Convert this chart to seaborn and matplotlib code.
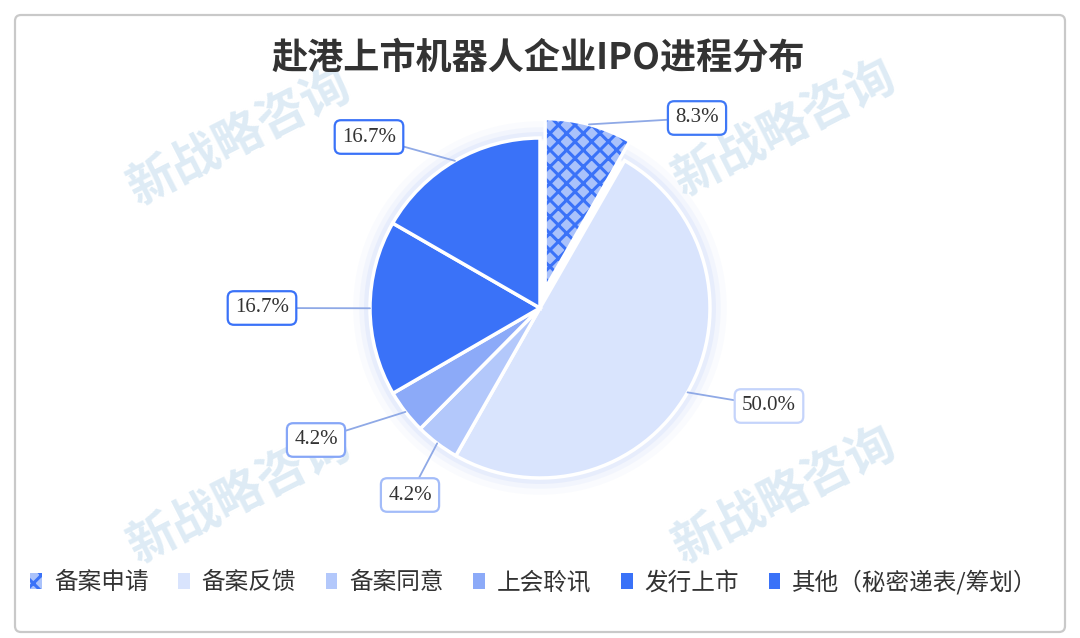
import matplotlib
matplotlib.use("Agg")
import numpy as np
import matplotlib.pyplot as plt
from matplotlib.patches import FancyBboxPatch, Patch, Wedge
import seaborn as sns

# data
title = "赴港上市机器人企业IPO进程分布"
stages = ["备案申请", "备案反馈", "备案同意", "上会聆讯", "发行上市", "其他（秘密递表/筹划）"]
shares = [8.3, 50.0, 4.2, 4.2, 16.7, 16.7]

colors = ["#aac2fb", "#d9e4fd", "#b3c8fb", "#8caaf8", "#3a72f8", "#3a72f8"]
box_edges = ["#3f78f6", "#c5d4fb", "#a3bcf9", "#86a6f7", "#3a72f8", "#3a72f8"]
# label box centres in pixels (x from left, y from top)
label_px = [(697, 118), (769, 406), (410, 495), (316, 440), (262, 308), (369, 137)]

sns.set_theme(style="white")
plt.rcParams['font.family'] = ['Noto Sans CJK SC', 'DejaVu Sans']
plt.rcParams['hatch.linewidth'] = 2.2

W, H = 1080, 638
fig = plt.figure(figsize=(W / 100, H / 100), dpi=100)
ax = fig.add_axes([0, 0, 1, 1])

cx, cy, r = 540, H - 308, 170

wedges, _ = ax.pie(shares, colors=colors, startangle=90, counterclock=False,
                   center=(cx, cy), radius=r, explode=[20, 0, 0, 0, 0, 0],
                   wedgeprops=dict(edgecolor='white', linewidth=2.5))
ax.set_xlim(0, W)
ax.set_ylim(0, H)
ax.set_aspect('equal')
ax.axis('off')

for w in wedges:
    w.set_zorder(2)

# outer frame
ax.add_patch(FancyBboxPatch((15, H - 632), 1050, 617, boxstyle='round,pad=0,rounding_size=6',
                            fc='white', ec='#c9c9c9', lw=1.6, zorder=0))

# soft glow behind the pie
for k, a in zip([14, 9, 5], [0.05, 0.08, 0.12]):
    ax.add_patch(plt.Circle((cx, cy), r + k * 0.5, fc='none', ec='#9db7fa', lw=k, alpha=a, zorder=1))

# checkered first slice
w0 = wedges[0]
w0.set_hatch('xx')
w0.set_edgecolor('#3a72f8')
w0.set_linewidth(0)
ax.add_patch(Wedge(w0.center, w0.r, w0.theta1, w0.theta2, fill=False, ec='white', lw=2.5, zorder=3))

# labels with leader lines
for w, v, (lx, ly), ec in zip(wedges, shares, label_px, box_edges):
    mid = np.deg2rad((w.theta1 + w.theta2) / 2)
    px = w.center[0] + w.r * np.cos(mid)
    py = w.center[1] + w.r * np.sin(mid)
    ax.annotate(f"{v:.1f}%", xy=(px, py), xytext=(lx, H - ly), ha='center', va='center',
                fontsize=15, family='Liberation Serif', color='#333333', zorder=5,
                bbox=dict(boxstyle='round,pad=0.35,rounding_size=0.3', fc='white', ec=ec, lw=1.6),
                arrowprops=dict(arrowstyle='-', color='#8fa9e6', lw=1.3, shrinkA=0, shrinkB=0))

# faint watermarks
for wx, wy in [(240, 137), (785, 128), (240, 495), (785, 495)]:
    ax.text(wx, H - wy, "新战略咨询", fontsize=35, rotation=27, ha='center', va='center',
            color='#d3e5f2', alpha=0.75, fontweight='bold', zorder=4)

ax.text(538, H - 58, title, ha='center', va='center', fontsize=26, fontweight='bold',
        color='#333333', zorder=6)

handles = [Patch(facecolor=c, edgecolor='none') for c in colors]
handles[0] = Patch(facecolor=colors[0], edgecolor='#3a72f8', hatch='xx', lw=0)
fig.legend(handles, stages, loc='center', bbox_to_anchor=(534 / W, 1 - 582 / H), ncol=6,
           frameon=False, fontsize=17, handlelength=0.5, handleheight=0.7,
           handletextpad=0.5, columnspacing=1.25, labelcolor='#333333')

fig.savefig("out.png", dpi=100, facecolor='white')
